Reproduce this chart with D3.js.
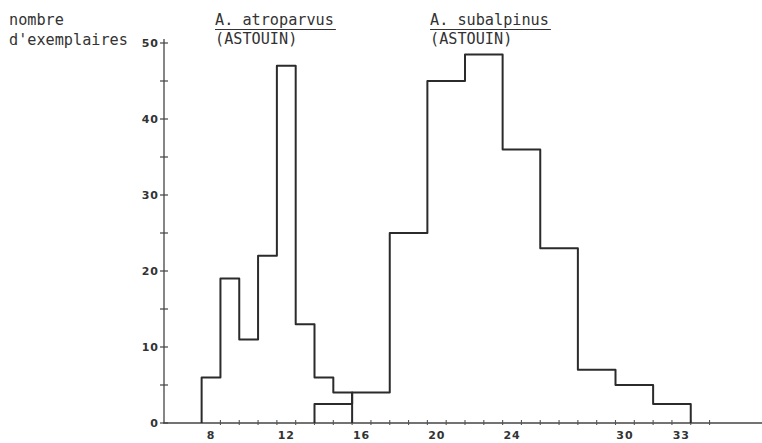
<!DOCTYPE html>
<html>
<head>
<meta charset="utf-8">
<script src="https://cdn.jsdelivr.net/npm/d3@7"></script>
<style>
  body { margin: 0; background: #fff; }
  svg { display: block; }
  .mono { font-family: "DejaVu Sans Mono", monospace; font-size: 15.2px; fill: #333; }
  .tick-label { font-family: "DejaVu Sans", sans-serif; font-weight: bold; font-size: 11px; letter-spacing: 1px; fill: #333; }
</style>
</head>
<body>
<svg id="chart" width="762" height="443"></svg>
<script>
// A. atroparvus : classes de 1 (centrées sur les entiers)
let atroparvusClasses = [8, 9, 10, 11, 12, 13, 14, 15];
let atroparvusNombres = [6, 19, 11, 22, 47, 13, 6, 4];

// A. subalpinus : classes de 2 (bornes inférieures)
let subalpinusBornes = [13.5, 15.5, 17.5, 19.5, 21.5, 23.5, 25.5, 27.5, 29.5, 31.5];
let subalpinusNombres = [2.5, 4, 25, 45, 48.5, 36, 23, 7, 5, 2.5];
let subalpinusLargeur = 2;

let xTickLabels = [8, 12, 16, 20, 24, 30, 33];
let yTickLabels = [0, 10, 20, 30, 40, 50];
let yTicksMineurs = [5, 15, 25, 35, 45];

let svg = d3.select("#chart");

let x = d3.scaleLinear().domain([5.5, 37.5]).range([164, 766]);
let y = d3.scaleLinear().domain([0, 50]).range([423, 43]);

let couleurTrait = "#2b2b2b";

// axe horizontal
svg.append("line")
    .attr("x1", x(5.45)).attr("x2", 762)
    .attr("y1", y(0)).attr("y2", y(0))
    .attr("stroke", "#444").attr("stroke-width", 1.3);

// petits traits sur l'axe horizontal (bornes des classes)
let xTiretsMineurs = d3.range(8.5, 35, 1);
svg.selectAll(".xtiret")
    .data(xTiretsMineurs)
    .join("line")
    .attr("class", "xtiret")
    .attr("x1", d => x(d)).attr("x2", d => x(d))
    .attr("y1", y(0) - 3).attr("y2", y(0) + 2)
    .attr("stroke", "#555").attr("stroke-width", 1.1);

svg.selectAll(".xlabel")
    .data(xTickLabels)
    .join("text")
    .attr("class", "tick-label")
    .attr("x", d => x(d))
    .attr("y", 439)
    .attr("text-anchor", "middle")
    .text(d => d);

// axe vertical
svg.append("line")
    .attr("x1", x(5.5)).attr("x2", x(5.5))
    .attr("y1", y(0)).attr("y2", y(50) - 4)
    .attr("stroke", "#444").attr("stroke-width", 1.3);

svg.selectAll(".ytiret")
    .data(yTickLabels.concat(yTicksMineurs))
    .join("line")
    .attr("class", "ytiret")
    .attr("x1", x(5.5) - 4).attr("x2", x(5.5) + 4)
    .attr("y1", d => y(d)).attr("y2", d => y(d))
    .attr("stroke", "#444").attr("stroke-width", 1.2);

svg.selectAll(".ylabel")
    .data(yTickLabels)
    .join("text")
    .attr("class", "tick-label")
    .attr("x", x(5.5) - 5)
    .attr("y", d => y(d) + 4)
    .attr("text-anchor", "end")
    .text(d => d);

// contours des histogrammes
function contour(bornes, largeurs, nombres) {
    let pts = [[bornes[0], 0]];
    bornes.forEach((b, i) => {
        pts.push([b, nombres[i]]);
        pts.push([b + largeurs[i], nombres[i]]);
    });
    let fin = bornes[bornes.length - 1] + largeurs[largeurs.length - 1];
    pts.push([fin, 0]);
    return pts;
}

let ligne = d3.line().x(d => x(d[0])).y(d => y(d[1]));

let atroBornes = atroparvusClasses.map(c => c - 0.5);
svg.append("path")
    .attr("d", ligne(contour(atroBornes, atroBornes.map(() => 1), atroparvusNombres)))
    .attr("fill", "none").attr("stroke", couleurTrait)
    .attr("stroke-width", 2).attr("stroke-linejoin", "round");

svg.append("path")
    .attr("d", ligne(contour(subalpinusBornes, subalpinusBornes.map(() => subalpinusLargeur), subalpinusNombres)))
    .attr("fill", "none").attr("stroke", couleurTrait)
    .attr("stroke-width", 2).attr("stroke-linejoin", "round");

// textes
svg.append("text").attr("class", "mono").attr("x", 9).attr("y", 25).text("nombre");
svg.append("text").attr("class", "mono").attr("x", 9).attr("y", 45).text("d'exemplaires");

let titres = [
    { nom: "A. atroparvus", x: 215 },
    { nom: "A. subalpinus", x: 430 }
];
titres.forEach(t => {
    let txt = svg.append("text").attr("class", "mono").attr("x", t.x).attr("y", 25).text(t.nom);
    let w = txt.node().getComputedTextLength();
    svg.append("line")
        .attr("x1", t.x).attr("x2", t.x + w + 2)
        .attr("y1", 29.5).attr("y2", 29.5)
        .attr("stroke", "#333").attr("stroke-width", 1.2);
    svg.append("text").attr("class", "mono").attr("x", t.x).attr("y", 44).text("(ASTOUIN)");
});
</script>
</body>
</html>
